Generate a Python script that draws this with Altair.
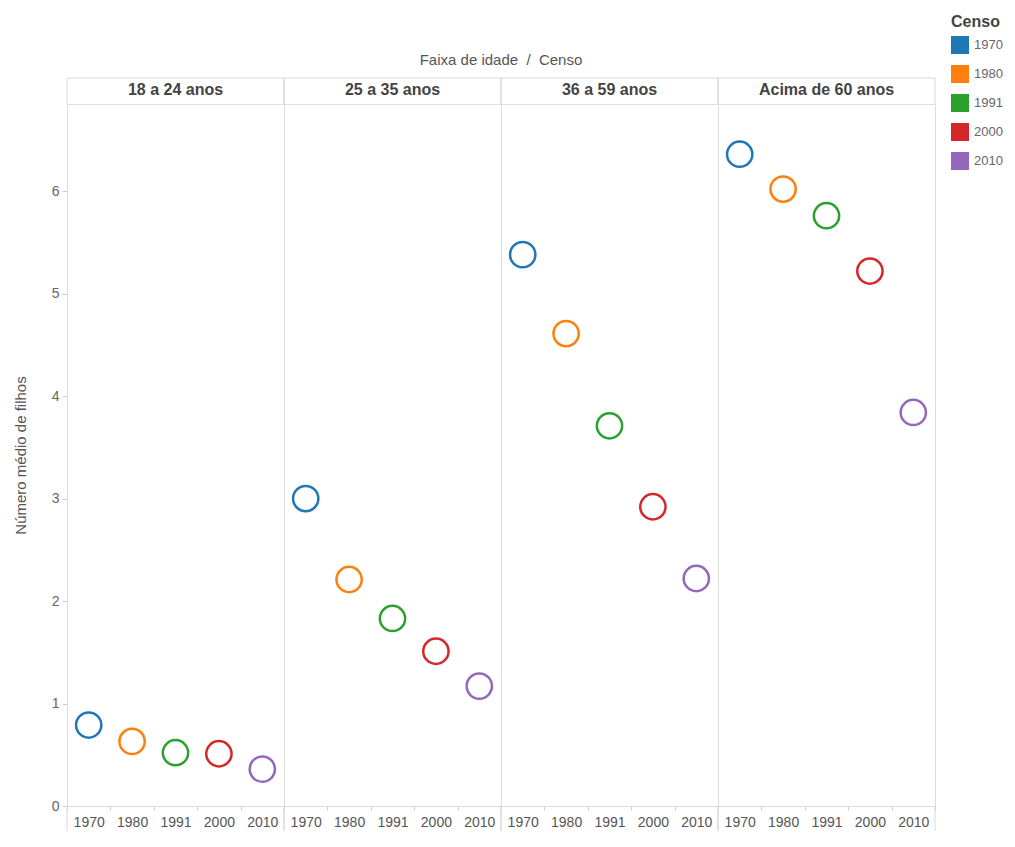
import altair as alt
import pandas as pd

faixas = ["18 a 24 anos", "25 a 35 anos", "36 a 59 anos", "Acima de 60 anos"]
censos = ["1970", "1980", "1991", "2000", "2010"]
cores = ["#1f77b4", "#ff7f0e", "#2ca02c", "#d62728", "#9467bd"]

filhos_18_24 = [0.79, 0.63, 0.52, 0.51, 0.36]
filhos_25_35 = [3.00, 2.21, 1.83, 1.51, 1.17]
filhos_36_59 = [5.38, 4.61, 3.71, 2.92, 2.22]
filhos_60 = [6.36, 6.02, 5.76, 5.22, 3.84]

series = [filhos_18_24, filhos_25_35, filhos_36_59, filhos_60]
rows = []
for faixa, vals in zip(faixas, series):
    for c, v in zip(censos, vals):
        rows.append({"Faixa": faixa, "Censo": c, "Filhos": v})
df = pd.DataFrame(rows)

W = 217
H = 702
GRID = "#d9d9d9"

base = alt.Chart(df)

x_enc = alt.X(
    "Censo:N",
    sort=censos,
    bandPosition=0.5,
    scale=alt.Scale(type="band", paddingInner=0, paddingOuter=0),
    axis=alt.Axis(
        title=None, labelAngle=0, labelFontSize=14, labelColor="#555",
        labelPadding=5, tickBand="extent", tickSize=4, tickColor="#ccc",
        domain=False, grid=False,
    ),
)
y_enc = alt.Y(
    "Filhos:Q",
    scale=alt.Scale(domain=[0, 6.85], nice=False, zero=True),
    axis=alt.Axis(
        title="Número médio de filhos", values=[0, 1, 2, 3, 4, 5, 6],
        labelFontSize=14, labelColor="#666", tickSize=5, tickColor="#ccc",
        domain=False, grid=False, titleFontSize=15, titleFontWeight="normal",
        titleColor="#555", titlePadding=23, labelPadding=3,
    ),
)
color_scale = alt.Scale(domain=censos, range=cores)

legend_layer = base.transform_filter("false").mark_square(filled=True, opacity=1).encode(
    x=x_enc,
    y=y_enc,
    color=alt.Color(
        "Censo:N",
        sort=censos,
        scale=color_scale,
        legend=alt.Legend(
            title="Censo", orient="none", legendX=884, legendY=-90,
            symbolType="square", symbolSize=324, symbolOpacity=1,
            symbolStrokeWidth=0, titleFontSize=16, titleFontWeight="bold",
            titleColor="#444", labelFontSize=13, labelColor="#666",
            labelOffset=5, rowPadding=11, titlePadding=6,
        ),
    ),
)

points = base.mark_point(filled=False, strokeWidth=2.5, size=640, opacity=1).encode(
    x=x_enc,
    y=y_enc,
    color=alt.Color("Censo:N", sort=censos, scale=color_scale, legend=None),
)

one = base.transform_filter("datum.Censo == '1970'")
top_rule = one.mark_rule(color=GRID, strokeWidth=1).encode(
    x=alt.value(0), x2=alt.value(W), y=alt.value(-26)
)
left_up = one.mark_rule(color=GRID, strokeWidth=1).encode(
    x=alt.value(0), y=alt.value(-26), y2=alt.value(0)
)
right_up = one.mark_rule(color=GRID, strokeWidth=1).encode(
    x=alt.value(W), y=alt.value(-26), y2=alt.value(0)
)
left_down = one.mark_rule(color=GRID, strokeWidth=1).encode(
    x=alt.value(0), y=alt.value(H), y2=alt.value(H + 25)
)
right_down = one.mark_rule(color=GRID, strokeWidth=1).encode(
    x=alt.value(W), y=alt.value(H), y2=alt.value(H + 25)
)

layer = alt.layer(
    legend_layer, points, top_rule, left_up, right_up, left_down, right_down
).properties(width=W, height=H)

chart = layer.facet(
    column=alt.Column(
        "Faixa:N",
        sort=faixas,
        header=alt.Header(
            title="Faixa de idade \u00a0/\u00a0 Censo", titleFontSize=15, titleColor="#555",
            titleFontWeight="normal", titlePadding=4,
            labelFontWeight="bold", labelFontSize=16, labelColor="#444",
            labelPadding=6,
        ),
    ),
    spacing=0,
    bounds="flush",
).properties(
    padding={"left": 5, "top": 6, "right": 0, "bottom": 0}
).configure_view(
    stroke=GRID
).configure(
    font="Liberation Sans"
)

chart.save("out.html", embed_options={"renderer": "svg", "actions": False})
